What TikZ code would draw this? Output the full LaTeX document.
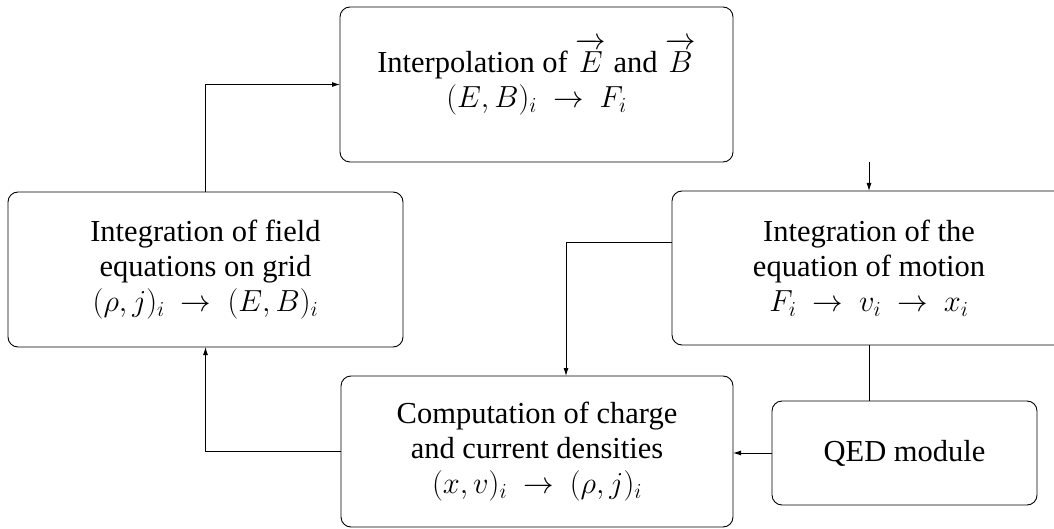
\documentclass[tikz,border=0pt]{standalone}
\usepackage{fix-cm}
\usepackage{fontspec}
\setmainfont{Liberation Serif}
\usetikzlibrary{arrows.meta}
\tikzset{
  blk/.style={draw, line width=0.9pt, rounded corners=10pt, align=center, inner sep=0pt, outer sep=0pt,
    font=\fontsize{30.5}{35}\selectfont},
  conn/.style={line width=0.9pt},
  arr/.style={conn, -{Latex[length=8pt,width=5pt]}}
}
\newcommand{\myvec}[1]{\overrightarrow{\rule{0pt}{0.8em}#1}}
\begin{document}
\begin{tikzpicture}[x=1pt,y=-1pt]
\useasboundingbox (0,0) rectangle (1054,529);
\node[blk, minimum width=393pt, minimum height=155pt] (interp) at (536.5,84.5)
  {Interpolation of $\myvec{E}$ and $\myvec{B}$\\ $(E,B)_i\ \rightarrow\ F_i$\rule[-23pt]{0pt}{23pt}};
\node[blk, minimum width=395pt, minimum height=155pt] (field) at (205.5,269.5)
  {Integration of field\\ equations on grid\\ $(\rho,j)_i\ \rightarrow\ (E,B)_i$};
\node[blk, minimum width=394pt, minimum height=154pt] (motion) at (869,268)
  {Integration of the\\ equation of motion\\ $F_i\ \rightarrow\ v_i\ \rightarrow\ x_i$};
\node[blk, minimum width=392pt, minimum height=151pt] (charge) at (537,451.5)
  {Computation of charge\\ and current densities\\ $(x,v)_i\ \rightarrow\ (\rho,j)_i$};
\node[blk, minimum width=265pt, minimum height=104pt] (qed) at (904.5,453) {QED module};
\draw[arr] (field.north) |- (interp.west);
\draw[arr] (interp.south -| motion.north) -- (motion.north);
\draw[arr] ([yshift=26pt]motion.west) -| ([xshift=29pt]charge.north);
\draw[conn] (motion.south) -- (motion.south |- qed.north);
\draw[arr] (qed.west) -- (qed.west -| charge.east);
\draw[arr] (charge.west) -| (field.south);
\end{tikzpicture}
\end{document}
